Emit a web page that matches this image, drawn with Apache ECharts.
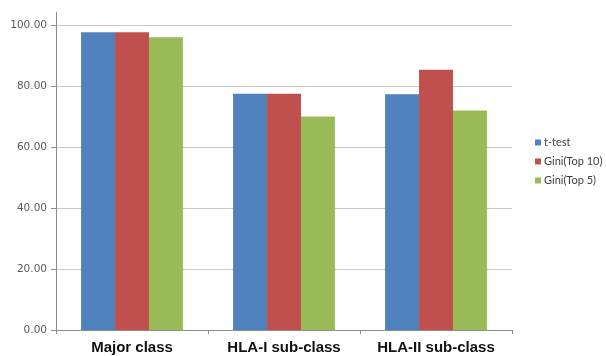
<!DOCTYPE html>
<html>
<head>
<meta charset="utf-8">
<script src="https://cdn.jsdelivr.net/npm/echarts@6/dist/echarts.min.js"></script>
<style>
  html, body { margin: 0; padding: 0; background: #fff; }
  #chart { width: 606px; height: 356px; }
</style>
</head>
<body>
<div id="chart"></div>
<script>
// Classification accuracy per class level
const categories = ['Major class', 'HLA-I sub-class', 'HLA-II sub-class'];
const tTest = [97.6, 77.5, 77.3];
const giniTop10 = [97.6, 77.5, 85.3];
const giniTop5 = [96.0, 70.0, 72.0];
const seriesNames = ['t-test', 'Gini(Top 10)', 'Gini(Top 5)'];
const seriesColors = ['#4f81bd', '#c0504d', '#9bbb59'];

const chart = echarts.init(document.getElementById('chart'), null, { renderer: 'canvas' });

const makeSeries = (name, data, color) => ({
  name: name,
  type: 'bar',
  data: data,
  barGap: '0%',
  barCategoryGap: '33%',
  itemStyle: { color: color },
  emphasis: { disabled: true }
});

chart.setOption({
  animation: false,
  backgroundColor: '#ffffff',
  grid: { left: 56, right: 94, top: 25, bottom: 26, containLabel: false },
  legend: {
    orient: 'vertical',
    left: 530,
    top: 132,
    itemWidth: 6,
    itemHeight: 6,
    itemGap: 8,
    icon: 'rect',
    textStyle: { fontFamily: 'Lato', fontSize: 11, color: '#404040', padding: [0, 0, 0, -2] },
    data: seriesNames
  },
  xAxis: {
    type: 'category',
    data: categories,
    axisLine: { show: true, lineStyle: { color: '#8c8c8c', width: 1 } },
    axisTick: { show: true, alignWithLabel: false, length: 4, lineStyle: { color: '#8c8c8c' } },
    axisLabel: {
      interval: 0,
      hideOverlap: false,
      margin: 10,
      fontFamily: 'Liberation Sans',
      fontWeight: 'bold',
      fontSize: 15,
      color: '#111111'
    }
  },
  yAxis: {
    type: 'value',
    min: 0,
    max: 100,
    interval: 20,
    axisLine: { show: true, lineStyle: { color: '#8c8c8c', width: 1 } },
    axisTick: { show: true, length: 5, lineStyle: { color: '#8c8c8c' } },
    splitLine: { show: true, lineStyle: { color: '#c8c8c8', width: 1 } },
    axisLabel: {
      margin: 9,
      fontFamily: 'DejaVu Sans',
      fontSize: 10.5,
      color: '#5a5a5a',
      formatter: v => v.toFixed(2)
    }
  },
  // short extension of the value axis above its top gridline
  graphic: [{
    type: 'line',
    shape: { x1: 56.5, y1: 12, x2: 56.5, y2: 25 },
    style: { stroke: '#8c8c8c', lineWidth: 1 },
    silent: true
  }],
  series: [
    makeSeries(seriesNames[0], tTest, seriesColors[0]),
    makeSeries(seriesNames[1], giniTop10, seriesColors[1]),
    makeSeries(seriesNames[2], giniTop5, seriesColors[2])
  ]
});
</script>
</body>
</html>
